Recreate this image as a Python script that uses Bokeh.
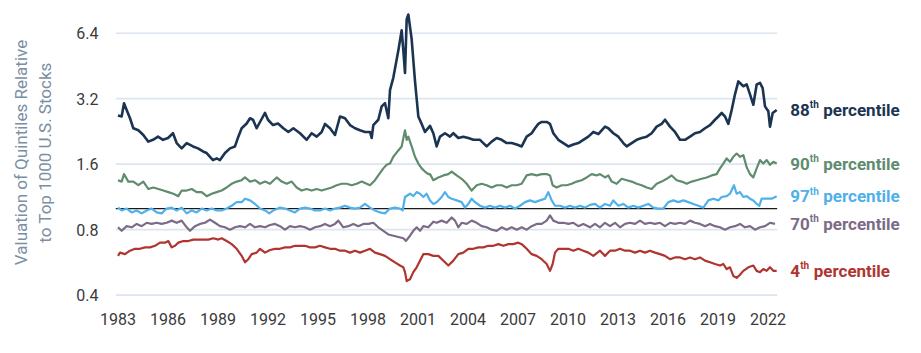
from bokeh.plotting import figure
from bokeh.models import FixedTicker, PrintfTickFormatter, Label, Range1d
from bokeh.embed import file_html
from bokeh.resources import INLINE

# ---------------- data ----------------
p88 = [(1983.0,2.68),(1983.22,2.65),(1983.36,3.05),(1983.52,2.84),(1983.72,2.60),(1983.92,2.34),
       (1984.22,2.29),(1984.52,2.18),(1984.82,2.03),(1985.1,2.07),(1985.4,2.14),(1985.7,2.07),
       (1986.0,2.11),(1986.3,2.22),(1986.52,2.00),(1986.82,1.89),(1987.12,2.00),(1987.5,1.93),
       (1987.8,1.89),(1988.1,1.83),(1988.32,1.80),(1988.52,1.73),(1988.7,1.67),(1988.92,1.70),
       (1989.12,1.67),(1989.42,1.80),(1989.72,1.89),(1990.02,1.93),(1990.22,2.14),(1990.42,2.34),
       (1990.72,2.46),(1990.92,2.60),(1991.1,2.56),(1991.32,2.34),(1991.52,2.50),(1991.82,2.75),
       (1992.0,2.56),(1992.3,2.42),(1992.6,2.46),(1992.92,2.34),(1993.22,2.25),(1993.52,2.34),
       (1993.92,2.22),(1994.32,2.07),(1994.62,2.22),(1994.92,2.14),(1995.22,2.25),(1995.42,2.45),
       (1995.72,2.34),(1996.02,2.18),(1996.32,2.65),(1996.62,2.60),(1996.92,2.42),(1997.22,2.34),
       (1997.52,2.29),(1997.82,2.25),(1998.12,2.25),(1998.22,2.11),(1998.32,2.42),(1998.62,2.56),
       (1998.82,2.95),(1999.02,3.05),(1999.22,2.60),(1999.32,3.50),(1999.52,4.00),(1999.82,5.33),
       (2000.02,6.60),(2000.12,5.33),(2000.22,4.20),(2000.32,7.40),(2000.42,7.80),(2000.62,6.00),
       (2000.82,3.85),(2001.02,2.65),(2001.22,2.45),(2001.42,2.25),(2001.72,2.40),(2001.92,2.22),
       (2002.12,1.93),(2002.32,2.14),(2002.62,2.22),(2002.92,2.14),(2003.12,2.22),(2003.42,2.11),
       (2003.72,2.14),(2004.02,2.11),(2004.32,2.07),(2004.72,2.07),(2005.12,1.93),(2005.42,2.03),
       (2005.72,2.11),(2006.02,2.07),(2006.32,2.00),(2006.62,2.00),(2006.92,1.97),(2007.22,1.93),
       (2007.52,2.14),(2007.82,2.22),(2008.02,2.34),(2008.22,2.45),(2008.42,2.50),(2008.72,2.50),
       (2008.92,2.45),(2009.12,2.22),(2009.42,2.07),(2009.72,2.00),(2010.02,1.93),(2010.32,1.97),
       (2010.62,2.00),(2010.92,2.07),(2011.22,2.14),(2011.52,2.25),(2011.82,2.20),(2012.22,2.38),
       (2012.42,2.34),(2012.72,2.22),(2013.02,2.14),(2013.32,2.00),(2013.52,1.93),(2013.82,2.00),
       (2014.12,2.07),(2014.42,2.11),(2014.72,2.14),(2015.02,2.22),(2015.32,2.38),(2015.62,2.45),
       (2015.82,2.56),(2016.12,2.38),(2016.42,2.25),(2016.72,2.07),(2017.02,2.07),(2017.32,2.14),
       (2017.62,2.22),(2017.92,2.25),(2018.22,2.34),(2018.52,2.42),(2018.82,2.56),(2019.02,2.65),
       (2019.22,2.75),(2019.42,2.65),(2019.62,2.45),(2019.82,2.84),(2020.02,3.35),(2020.22,3.84),
       (2020.52,3.65),(2020.72,3.72),(2020.92,3.35),(2021.12,3.00),(2021.32,3.72),(2021.52,3.78),
       (2021.68,3.58),(2021.82,2.95),(2022.02,2.80),(2022.12,2.38),(2022.28,2.75),(2022.52,2.84)]

p90 = [(1983.0,1.35),(1983.22,1.33),(1983.36,1.44),(1983.62,1.33),(1983.92,1.33),(1984.22,1.28),
       (1984.52,1.33),(1984.82,1.23),(1985.12,1.25),(1985.42,1.23),(1985.72,1.21),(1986.02,1.19),
       (1986.32,1.17),(1986.62,1.14),(1986.82,1.21),(1987.12,1.21),(1987.42,1.23),(1987.72,1.19),
       (1988.02,1.19),(1988.32,1.14),(1988.62,1.17),(1988.92,1.19),(1989.22,1.21),(1989.52,1.25),
       (1989.82,1.30),(1990.12,1.33),(1990.42,1.35),(1990.62,1.39),(1990.92,1.33),(1991.22,1.35),
       (1991.52,1.30),(1991.82,1.33),(1992.12,1.30),(1992.52,1.39),(1992.82,1.33),(1993.12,1.30),
       (1993.42,1.33),(1993.72,1.25),(1994.02,1.21),(1994.32,1.23),(1994.62,1.21),(1994.92,1.23),
       (1995.22,1.21),(1995.52,1.23),(1995.82,1.25),(1996.12,1.28),(1996.42,1.30),(1996.72,1.30),
       (1997.02,1.28),(1997.32,1.30),(1997.62,1.33),(1997.92,1.30),(1998.12,1.28),(1998.42,1.35),
       (1998.62,1.42),(1998.92,1.53),(1999.12,1.59),(1999.32,1.61),(1999.52,1.73),(1999.82,1.85),
       (2000.02,1.93),(2000.22,2.29),(2000.32,2.07),(2000.42,2.14),(2000.62,1.93),(2000.82,1.73),
       (2001.02,1.61),(2001.22,1.53),(2001.42,1.48),(2001.62,1.44),(2001.72,1.44),(2001.92,1.35),
       (2002.22,1.39),(2002.52,1.42),(2002.82,1.44),(2003.02,1.48),(2003.32,1.42),(2003.62,1.37),
       (2003.92,1.30),(2004.22,1.21),(2004.52,1.28),(2004.82,1.30),(2005.12,1.28),(2005.42,1.25),
       (2005.72,1.28),(2006.02,1.28),(2006.32,1.25),(2006.62,1.28),(2006.92,1.28),(2007.22,1.30),
       (2007.52,1.42),(2007.82,1.44),(2008.12,1.42),(2008.42,1.44),(2008.72,1.44),(2008.92,1.42),
       (2009.08,1.28),(2009.32,1.25),(2009.62,1.28),(2009.92,1.28),(2010.22,1.30),(2010.52,1.33),
       (2010.82,1.35),(2011.12,1.39),(2011.42,1.44),(2011.72,1.42),(2011.92,1.44),(2012.22,1.39),
       (2012.42,1.42),(2012.62,1.33),(2012.92,1.30),(2013.22,1.37),(2013.52,1.35),(2013.82,1.33),
       (2014.12,1.30),(2014.42,1.28),(2014.72,1.25),(2015.02,1.23),(2015.32,1.30),(2015.62,1.33),
       (2015.92,1.37),(2016.22,1.42),(2016.52,1.35),(2016.82,1.33),(2017.12,1.30),(2017.42,1.33),
       (2017.72,1.35),(2018.02,1.37),(2018.32,1.39),(2018.62,1.42),(2018.92,1.44),(2019.12,1.53),
       (2019.32,1.61),(2019.52,1.70),(2019.72,1.64),(2019.92,1.73),(2020.12,1.79),(2020.32,1.73),
       (2020.52,1.76),(2020.72,1.55),(2020.92,1.44),(2021.12,1.39),(2021.32,1.53),(2021.52,1.67),
       (2021.72,1.61),(2021.92,1.67),(2022.12,1.59),(2022.32,1.64),(2022.52,1.61)]

p97 = [(1983.0,1.01),(1983.22,0.98),(1983.52,1.00),(1983.82,0.96),(1984.12,0.98),(1984.42,0.95),
       (1984.72,0.98),(1985.02,1.00),(1985.32,0.96),(1985.62,0.95),(1985.92,1.00),(1986.22,1.01),
       (1986.52,0.98),(1986.82,1.01),(1987.12,0.95),(1987.42,0.98),(1987.72,0.96),(1988.02,1.00),
       (1988.32,0.98),(1988.62,1.00),(1988.92,0.98),(1989.22,0.98),(1989.52,1.00),(1989.82,1.03),
       (1990.12,1.07),(1990.42,1.07),(1990.62,1.11),(1990.92,1.09),(1991.22,1.05),(1991.52,1.00),
       (1991.82,0.98),(1992.08,0.95),(1992.32,0.98),(1992.72,1.01),(1993.02,1.00),(1993.32,0.98),
       (1993.62,0.96),(1993.92,1.00),(1994.22,1.01),(1994.52,1.00),(1994.82,0.98),(1995.12,0.98),
       (1995.42,1.00),(1995.72,0.98),(1996.02,1.00),(1996.32,1.01),(1996.62,1.03),(1996.92,1.01),
       (1997.22,1.00),(1997.52,1.01),(1997.82,1.05),(1998.12,1.01),(1998.42,0.98),(1998.72,0.96),
       (1999.02,0.95),(1999.32,1.00),(1999.62,1.01),(1999.92,1.00),(2000.08,0.98),(2000.22,1.13),
       (2000.52,1.17),(2000.72,1.14),(2000.92,1.19),(2001.12,1.17),(2001.32,1.13),(2001.52,1.17),
       (2001.72,1.09),(2001.92,1.05),(2002.12,1.07),(2002.42,1.13),(2002.62,1.19),(2002.82,1.13),
       (2003.02,1.11),(2003.32,1.09),(2003.62,1.07),(2003.82,1.01),(2004.02,1.05),(2004.22,1.11),
       (2004.42,1.07),(2004.72,1.03),(2005.02,1.01),(2005.32,1.03),(2005.62,1.01),(2005.92,1.03),
       (2006.22,1.01),(2006.52,1.03),(2006.82,1.00),(2007.12,1.03),(2007.42,1.07),(2007.72,1.09),
       (2008.02,1.07),(2008.32,1.09),(2008.62,1.11),(2008.82,1.19),(2009.02,1.09),(2009.22,1.03),
       (2009.52,1.03),(2009.82,1.01),(2010.12,1.03),(2010.42,1.01),(2010.72,1.03),(2011.02,1.01),
       (2011.32,1.04),(2011.62,1.05),(2011.92,1.01),(2012.22,1.05),(2012.52,1.03),(2012.72,1.09),
       (2013.02,1.03),(2013.32,1.05),(2013.62,1.01),(2013.92,1.03),(2014.22,1.01),(2014.52,1.03),
       (2014.82,1.05),(2015.12,1.01),(2015.42,1.00),(2015.72,1.00),(2016.02,1.07),(2016.32,1.09),
       (2016.62,1.07),(2016.92,1.09),(2017.22,1.07),(2017.52,1.05),(2017.82,1.03),(2018.12,1.01),
       (2018.42,1.09),(2018.72,1.11),(2019.02,1.09),(2019.22,1.13),(2019.52,1.14),(2019.72,1.17),
       (2019.96,1.28),(2020.12,1.17),(2020.32,1.19),(2020.52,1.13),(2020.72,1.14),(2020.92,1.11),
       (2021.12,1.09),(2021.32,1.05),(2021.48,1.03),(2021.62,1.11),(2021.92,1.11),(2022.22,1.11),
       (2022.52,1.14)]

p70 = [(1983.0,0.82),(1983.22,0.79),(1983.52,0.83),(1983.82,0.82),(1984.12,0.85),(1984.42,0.83),
       (1984.72,0.86),(1985.02,0.85),(1985.32,0.86),(1985.62,0.85),(1985.92,0.86),(1986.22,0.88),
       (1986.52,0.86),(1986.82,0.88),(1987.12,0.82),(1987.32,0.79),(1987.62,0.83),(1987.92,0.85),
       (1988.22,0.86),(1988.52,0.89),(1988.82,0.86),(1989.12,0.83),(1989.42,0.82),(1989.72,0.80),
       (1990.02,0.82),(1990.32,0.83),(1990.62,0.82),(1990.92,0.85),(1991.22,0.82),(1991.52,0.83),
       (1991.82,0.82),(1992.12,0.84),(1992.42,0.85),(1992.72,0.83),(1993.02,0.80),(1993.32,0.83),
       (1993.62,0.82),(1993.92,0.83),(1994.22,0.82),(1994.52,0.80),(1994.82,0.82),(1995.12,0.83),
       (1995.42,0.85),(1995.72,0.83),(1996.02,0.85),(1996.22,0.88),(1996.52,0.82),(1996.82,0.83),
       (1997.12,0.85),(1997.42,0.83),(1997.72,0.85),(1998.02,0.85),(1998.32,0.86),(1998.62,0.82),
       (1998.92,0.79),(1999.22,0.76),(1999.52,0.75),(1999.82,0.74),(2000.12,0.73),(2000.28,0.71),
       (2000.52,0.75),(2000.72,0.79),(2000.92,0.82),(2001.12,0.79),(2001.32,0.83),(2001.62,0.82),
       (2001.92,0.87),(2002.12,0.86),(2002.42,0.88),(2002.72,0.86),(2003.02,0.91),(2003.22,0.88),
       (2003.42,0.82),(2003.62,0.86),(2003.92,0.85),(2004.22,0.88),(2004.52,0.86),(2004.82,0.83),
       (2005.12,0.82),(2005.42,0.80),(2005.72,0.79),(2006.02,0.82),(2006.32,0.80),(2006.62,0.82),
       (2006.92,0.80),(2007.22,0.82),(2007.52,0.80),(2007.82,0.83),(2008.12,0.85),(2008.42,0.85),
       (2008.72,0.88),(2008.92,0.93),(2009.12,0.88),(2009.42,0.86),(2009.72,0.86),(2010.02,0.85),
       (2010.32,0.86),(2010.62,0.83),(2010.92,0.85),(2011.32,0.82),(2011.62,0.85),(2011.92,0.82),
       (2012.22,0.86),(2012.52,0.83),(2012.82,0.86),(2013.12,0.82),(2013.42,0.85),(2013.72,0.86),
       (2014.02,0.85),(2014.32,0.88),(2014.62,0.85),(2014.92,0.86),(2015.22,0.85),(2015.52,0.86),
       (2015.82,0.83),(2016.12,0.86),(2016.42,0.85),(2016.72,0.86),(2017.02,0.85),(2017.32,0.88),
       (2017.62,0.86),(2017.92,0.85),(2018.22,0.83),(2018.52,0.85),(2018.82,0.83),(2019.12,0.82),
       (2019.42,0.80),(2019.72,0.82),(2020.02,0.83),(2020.32,0.85),(2020.62,0.82),(2020.92,0.83),
       (2021.22,0.80),(2021.52,0.82),(2021.82,0.83),(2022.12,0.86),(2022.42,0.85)]

p4 = [(1983.0,0.606),(1983.12,0.627),(1983.42,0.617),(1983.72,0.640),(1984.02,0.653),(1984.32,0.653),
      (1984.62,0.663),(1984.92,0.663),(1985.22,0.674),(1985.52,0.697),(1985.82,0.697),(1986.02,0.709),
      (1986.22,0.663),(1986.42,0.674),(1986.62,0.697),(1986.92,0.709),(1987.22,0.709),(1987.52,0.720),
      (1987.82,0.720),(1988.12,0.720),(1988.42,0.720),(1988.72,0.730),(1989.02,0.720),(1989.22,0.730),
      (1989.52,0.709),(1989.82,0.686),(1990.12,0.653),(1990.42,0.606),(1990.62,0.566),(1990.82,0.585),
      (1991.02,0.617),(1991.32,0.627),(1991.52,0.653),(1991.82,0.627),(1992.12,0.645),(1992.42,0.653),
      (1992.72,0.653),(1993.02,0.663),(1993.32,0.663),(1993.62,0.674),(1993.92,0.674),(1994.22,0.674),
      (1994.52,0.663),(1994.82,0.663),(1995.12,0.674),(1995.42,0.663),(1995.72,0.653),(1996.02,0.653),
      (1996.32,0.640),(1996.62,0.640),(1996.92,0.627),(1997.22,0.640),(1997.52,0.627),(1997.82,0.640),
      (1998.12,0.653),(1998.42,0.627),(1998.72,0.617),(1999.02,0.606),(1999.32,0.585),(1999.62,0.566),
      (1999.92,0.547),(2000.12,0.537),(2000.22,0.510),(2000.32,0.464),(2000.52,0.473),(2000.72,0.510),
      (2000.92,0.537),(2001.12,0.576),(2001.32,0.617),(2001.62,0.617),(2001.92,0.606),(2002.22,0.606),
      (2002.62,0.566),(2002.82,0.547),(2003.12,0.576),(2003.42,0.617),(2003.72,0.627),(2004.02,0.653),
      (2004.32,0.653),(2004.62,0.663),(2004.92,0.663),(2005.22,0.674),(2005.52,0.674),(2005.82,0.686),
      (2006.12,0.674),(2006.42,0.686),(2006.72,0.686),(2007.02,0.697),(2007.22,0.686),(2007.52,0.653),
      (2007.82,0.617),(2008.12,0.606),(2008.42,0.585),(2008.72,0.556),(2008.92,0.517),(2009.08,0.556),
      (2009.22,0.627),(2009.42,0.653),(2009.72,0.653),(2010.02,0.653),(2010.32,0.640),(2010.62,0.653),
      (2010.92,0.640),(2011.22,0.627),(2011.52,0.606),(2011.92,0.640),(2012.22,0.606),(2012.52,0.640),
      (2012.82,0.640),(2013.12,0.653),(2013.42,0.640),(2013.72,0.640),(2014.02,0.627),(2014.32,0.640),
      (2014.62,0.627),(2014.92,0.640),(2015.22,0.627),(2015.52,0.617),(2015.82,0.606),(2016.12,0.585),
      (2016.42,0.596),(2016.72,0.596),(2017.02,0.585),(2017.32,0.596),(2017.62,0.585),(2017.92,0.596),
      (2018.22,0.576),(2018.52,0.566),(2018.82,0.556),(2019.12,0.547),(2019.32,0.556),(2019.52,0.527),
      (2019.72,0.537),(2019.92,0.490),(2020.12,0.480),(2020.32,0.496),(2020.52,0.517),(2020.82,0.537),
      (2021.12,0.547),(2021.32,0.517),(2021.52,0.510),(2021.72,0.527),(2021.92,0.517),(2022.12,0.537),
      (2022.32,0.517),(2022.52,0.517)]

series_numbers = ["88", "90", "97", "70", "4"]
series_data = [p88, p90, p97, p70, p4]
series_colors = ["#1b3452", "#5e8c6d", "#4fb0ea", "#7b6b86", "#b0352f"]
series_widths = [2.6, 2.2, 2.2, 2.2, 2.2]

y_ticks = [0.4, 0.8, 1.6, 3.2, 6.4]
x_ticks = list(range(1983, 2023, 3))
ref_level = [1.0]
y_title = "Valuation of Quintiles Relative\nto Top 1000 U.S. Stocks"

FONT = "Roboto"
X_START = 1982.85      # left edge of plotting area
X_DATA_END = 2022.55   # where the grid lines stop
X_END = 2030.85        # right edge of canvas (room for labels)

# ---------------- figure ----------------
p = figure(width=921, height=353, y_axis_type="log",
           x_range=Range1d(X_START, X_END), y_range=Range1d(0.39, 8.4),
           output_backend="svg", toolbar_location=None,
           min_border_left=115, min_border_right=6,
           min_border_top=7, min_border_bottom=56)
p.outline_line_color = None
p.background_fill_color = "white"
p.border_fill_color = "white"

p.xgrid.grid_line_color = None
p.ygrid.grid_line_color = None
p.yaxis.ticker = FixedTicker(ticks=y_ticks)
p.yaxis.formatter = PrintfTickFormatter(format="%.1f")
p.xaxis.ticker = FixedTicker(ticks=x_ticks)

for ax in (p.xaxis, p.yaxis):
    ax.axis_line_color = None
    ax.major_tick_line_color = None
    ax.minor_tick_line_color = None
    ax.major_tick_out = 0
    ax.minor_tick_out = 0
    ax.major_tick_in = 0
    ax.minor_tick_in = 0
    ax.major_label_text_font = FONT
    ax.major_label_text_font_size = "16px"
    ax.major_label_text_color = "#3a3a3a"

p.xaxis.major_label_standoff = 15
p.yaxis.major_label_standoff = 17
p.yaxis.axis_label = y_title
p.yaxis.axis_label_text_font = FONT
p.yaxis.axis_label_text_font_size = "17px"
p.yaxis.axis_label_text_font_style = "normal"
p.yaxis.axis_label_text_color = "#7a8fa3"
p.yaxis.axis_label_standoff = 18

# horizontal grid lines, only across the data span
p.segment(x0=[X_START] * len(y_ticks), y0=y_ticks, x1=[X_DATA_END] * len(y_ticks), y1=y_ticks,
          line_color="#dce5f0", line_width=1.6)
# reference line at 1.0
p.segment(x0=[X_START], y0=ref_level, x1=[X_DATA_END], y1=ref_level,
          line_color="#1a1a1a", line_width=1.2)

# series lines
for data, col, w in zip(series_data, series_colors, series_widths):
    xs = [d[0] for d in data]
    ys = [d[1] for d in data]
    p.line(xs, ys, line_color=col, line_width=w, line_join="round")

# end labels with superscript "th"
FS = 17
for num, data, col in zip(series_numbers, series_data, series_colors):
    yv = data[-1][1]
    numw = len(num) * 0.5615 * FS
    base = 13
    p.add_layout(Label(x=X_DATA_END, y=yv, x_offset=base, text=num, text_font=FONT,
                       text_font_size=f"{FS}px", text_font_style="bold",
                       text_color=col, text_baseline="middle", text_align="left"))
    p.add_layout(Label(x=X_DATA_END, y=yv, x_offset=base + numw + 0.5, y_offset=5, text="th",
                       text_font=FONT, text_font_size="10px", text_font_style="bold",
                       text_color=col, text_baseline="middle", text_align="left"))
    p.add_layout(Label(x=X_DATA_END, y=yv, x_offset=base + numw + 14, text="percentile",
                       text_font=FONT, text_font_size=f"{FS}px", text_font_style="bold",
                       text_color=col, text_baseline="middle", text_align="left"))

open("out.html", "w").write(file_html(p, INLINE))
